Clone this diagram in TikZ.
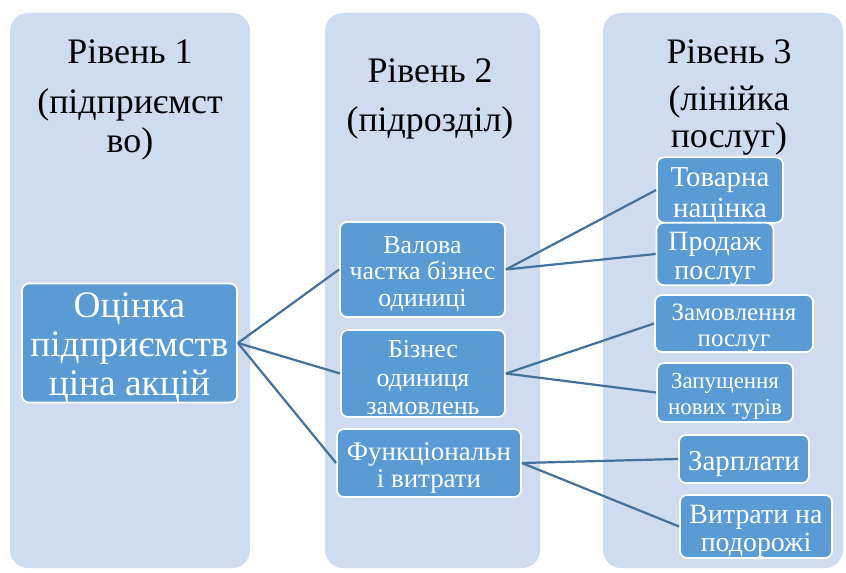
\documentclass[tikz,border=0pt]{standalone}
\usepackage{fontspec}
\setmainfont{Liberation Serif}
\newfontfamily\tnr{Liberation Serif}
\newcommand\tst[1][1em]{\rule{0pt}{#1}}
\definecolor{colbg}{RGB}{207,219,238}
\definecolor{boxfill}{RGB}{91,155,213}
\definecolor{linkcol}{RGB}{65,113,156}
\begin{document}
\begin{tikzpicture}[x=1bp,y=-1bp,
  colbox/.style={fill=colbg, rounded corners=18bp},
  head/.style={align=center, anchor=base, text=black, inner sep=0pt},
  item/.style={draw=white, line width=1.8bp, fill=boxfill, rounded corners=7bp, text=white, align=center, inner sep=0pt},
  link/.style={draw=linkcol, line width=2.2bp}]
\useasboundingbox[fill=white] (0,0) rectangle (846,573);
% columns
\fill[colbox] (10,13) rectangle (250,568);
\fill[colbox] (325,13) rectangle (540,568);
\fill[colbox] (603,13) rectangle (843,568);
% headers (anchor = baseline of last line)
\node[head, font=\tnr\fontsize{36}{40}\selectfont] (h1) at (130,153) {Рівень 1\\[10bp](підприємст\\во)};
\node[head, font=\tnr\fontsize{36}{37}\selectfont] (h2) at (430,132) {Рівень 2\\[13bp](підрозділ)};
\node[head, font=\tnr\fontsize{36}{38}\selectfont] (h3) at (729,148) {Рівень 3\\[9bp](лінійка\\послуг)};
% level 1
\node[item, minimum width=215bp, minimum height=119bp, font=\tnr\fontsize{37.5}{39}\selectfont] (main) at (129.5,343) {\tst[0.9em]Оцінка\\підприємств\\ціна акцій};
% level 2
\node[item, minimum width=165bp, minimum height=95bp, font=\tnr\fontsize{26}{27}\selectfont] (b1) at (422.5,269.5) {\tst Валова\\частка бізнес\\одиниці};
\node[item, minimum width=164bp, minimum height=87bp, font=\tnr\fontsize{26}{28.5}\selectfont] (b2) at (423,373.5) {\tst Бізнес\\одиниця\\замовлень};
\node[item, minimum width=184bp, minimum height=68bp, font=\tnr\fontsize{27}{27}\selectfont] (b3) at (429,463) {\tst Функціональн\\і витрати};
% level 3
\node[item, minimum width=126bp, minimum height=56bp, font=\tnr\fontsize{29}{31}\selectfont] (c1) at (720,190) {\tst Товарна\\націнка};
\node[item, minimum width=117bp, minimum height=60bp, font=\tnr\fontsize{28}{28.5}\selectfont] (c2) at (715,254) {\tst Продаж\\послуг};
\node[item, minimum width=158bp, minimum height=57bp, font=\tnr\fontsize{25}{26}\selectfont] (c3) at (734,323.5) {\tst Замовлення\\послуг};
\node[item, minimum width=136bp, minimum height=59bp, font=\tnr\fontsize{23}{27}\selectfont] (c4) at (725,392.5) {\tst Запущення\\нових турів};
\node[item, minimum width=130bp, minimum height=48bp, font=\tnr\fontsize{29}{30}\selectfont] (c5) at (744,459) {\tst Зарплати};
\node[item, minimum width=152bp, minimum height=63bp, font=\tnr\fontsize{28}{27.5}\selectfont] (c6) at (756,526.5) {\tst Витрати на\\подорожі};
% links
\draw[link] (main.east) -- (b1.west);
\draw[link] (main.east) -- (b2.west);
\draw[link] (main.east) -- (b3.west);
\draw[link] (b1.east) -- (c1.west);
\draw[link] (b1.east) -- (c2.west);
\draw[link] (b2.east) -- (c3.west);
\draw[link] (b2.east) -- (c4.west);
\draw[link] (b3.east) -- (c5.west);
\draw[link] (b3.east) -- (c6.west);
\end{tikzpicture}
\end{document}
